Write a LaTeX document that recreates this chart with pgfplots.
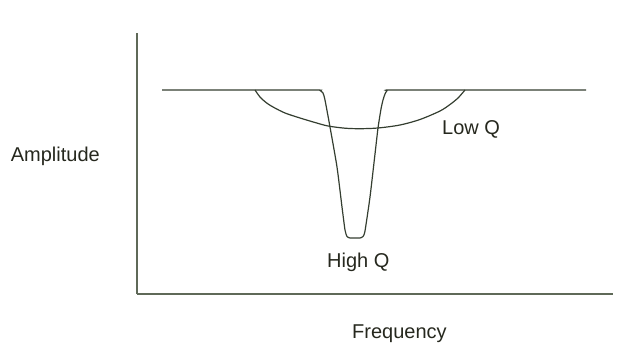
\documentclass[border=0pt]{standalone}
\usepackage{pgfplots}
\pgfplotsset{compat=1.18}
\usepackage{fontspec}
\setmainfont{Liberation Sans}
\definecolor{curve}{RGB}{52,62,48}
\definecolor{axcol}{RGB}{95,105,88}
\definecolor{txt}{RGB}{38,40,30}
\tikzset{lbl/.style={font=\fontsize{20}{24}\selectfont, text=txt, inner sep=0pt}}
\begin{document}
\begin{tikzpicture}
\path[use as bounding box] (0pt,0pt) rectangle (623pt,361pt);
\begin{axis}[
  at={(137pt,67pt)}, anchor=south west,
  scale only axis, width=476pt, height=261pt,
  xmin=137, xmax=613, ymin=67, ymax=328,
  axis x line=bottom, axis y line=left,
  axis line style={-, axcol, line width=1.2pt},
  ticks=none, clip=false,
]
% flat response with High Q notch
\addplot[curve, line width=1.2pt, smooth, tension=0.35] coordinates {
 (162,271) (240,271) (316,271) (320,270.5) (323,268) (325,261) (330,234) (337,194)
 (342,154) (345,131) (347,124.5) (350,123) (355,123) (360,123) (363,124.5)
 (365,130) (370,164) (375,207) (378,233) (381,252) (383,261) (385,267)
 (387,270.3) (390,271) (470,271) (586,271)
};
% Low Q response
\addplot[curve, line width=1.2pt, smooth, tension=0.5] coordinates {
 (255,271) (260,264) (266,258.5) (273,254) (285,248) (300,243) (315,238.5)
 (328,235) (345,232.8) (360,232.3) (378,233) (400,236) (420,241.5)
 (440,250) (450,256.5) (458,263) (465,271)
};
\node[lbl, anchor=base east] at (axis cs:100,199) {Amplitude};
\node[lbl, anchor=base west] at (axis cs:352,23) {Frequency};
\node[lbl, anchor=base west] at (axis cs:442,226) {Low Q};
\node[lbl, anchor=base west] at (axis cs:327,94) {High Q};
\end{axis}
\end{tikzpicture}
\end{document}
